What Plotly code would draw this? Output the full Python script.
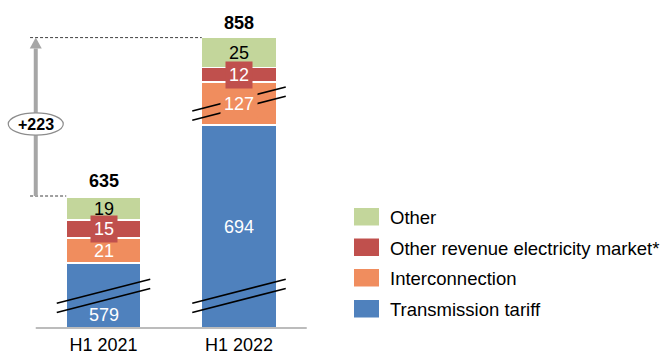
import plotly.graph_objects as go

# Revenue breakdown (EUR million)
periods = ["H1 2021", "H1 2022"]
series_names = ["Transmission tariff", "Interconnection",
                "Other revenue electricity market*", "Other"]
transmission_tariff = [579, 694]
interconnection = [21, 127]
other_revenue_market = [15, 12]
other = [19, 25]
totals = [635, 858]

# Amount cut out of each segment by the broken-axis marks
tariff_cut = [525, 525]
interconnection_cut = [0, 91]

colors = ["#4F81BD", "#F08D5E", "#C0504D", "#C3D69B"]
label_colors = ["white", "white", "white", "black"]
FONT = "Liberation Sans, Arial, sans-serif"

W, H = 660, 354
PLOT_BOTTOM = 332          # pixel row of the plot area's lower edge
PX_PER_UNIT = 1.2          # vertical pixels per displayed unit
X_PX_PER_UNIT = 135.5
BAR_W = 0.55
Y_LO = -(PLOT_BOTTOM - 328) / PX_PER_UNIT
Y_HI = Y_LO + PLOT_BOTTOM / PX_PER_UNIT
X_LO = -103.5 / X_PX_PER_UNIT
X_HI = X_LO + W / X_PX_PER_UNIT

xs = list(range(len(periods)))
values = [transmission_tariff, interconnection, other_revenue_market, other]
cuts = [tariff_cut, interconnection_cut, [0, 0], [0, 0]]
shown = [[v - c for v, c in zip(vals, cut)] for vals, cut in zip(values, cuts)]
shown_totals = [t - a - b for t, a, b in zip(totals, tariff_cut, interconnection_cut)]

fig = go.Figure()
for name, vals, disp, col in zip(series_names, values, shown, colors):
    fig.add_trace(go.Bar(
        x=xs, y=disp, name=name, customdata=vals,
        marker=dict(color=col, line=dict(color="white", width=1.5)),
        width=BAR_W, showlegend=False,
        hovertemplate="%{customdata}<extra>" + name + "</extra>",
    ))

shapes = []
annotations = []


def px_to_paper_y(py):
    return (PLOT_BOTTOM - py) / PLOT_BOTTOM


# Baseline under the bars
shapes.append(dict(type="line", xref="x", yref="y", x0=-0.5, x1=1.5, y0=0, y1=0,
                   line=dict(color="#A6A6A6", width=1.5)))

# Segment value labels
for i in xs:
    base = 0
    for s, (vals, disp) in enumerate(zip(values, shown)):
        h = disp[i]
        y_mid = base + h / 2
        bg = None
        if s == 0 and i == 0:
            y_mid = base + 11        # sits below the break marks
        if s == 2:
            bg = colors[2]
        if s == 1 and cuts[1][i] > 0:
            bg = colors[1]
        ann = dict(x=i, y=y_mid, xref="x", yref="y", text=str(vals[i]),
                   showarrow=False, font=dict(family=FONT, size=18, color=label_colors[s]),
                   borderpad=3)
        if bg:
            ann["bgcolor"] = bg
        annotations.append(ann)
        base += h

# Broken-axis marks: two parallel slanted lines
def break_marks(xc, yc):
    dx, dy, sep = 0.345, 10, 3.85
    out = []
    for off in (sep, -sep):
        out.append(dict(type="line", xref="x", yref="y",
                        x0=xc - dx, x1=xc + dx, y0=yc + off - dy, y1=yc + off + dy,
                        line=dict(color="black", width=1.6)))
    return out

for i in xs:
    if tariff_cut[i] > 0:
        shapes += break_marks(i, 26.8)
    if interconnection_cut[i] > 0:
        lo = shown[0][i]
        shapes += break_marks(i, lo + shown[1][i] / 2)

# Totals above the bars
for i in xs:
    annotations.append(dict(x=i, y=shown_totals[i], xref="x", yref="y", yanchor="bottom",
                            yshift=3, text=f"<b>{totals[i]}</b>", showarrow=False,
                            font=dict(family=FONT, size=18, color="black")))

# Dashed guides from the totals to the growth arrow
gx = -0.542
shapes.append(dict(type="line", xref="x", yref="y", x0=gx, x1=1 - BAR_W / 2,
                   y0=shown_totals[1], y1=shown_totals[1],
                   line=dict(color="#404040", width=1, dash="3px,2px")))
shapes.append(dict(type="line", xref="x", yref="y", x0=gx, x1=0 - BAR_W / 2,
                   y0=shown_totals[0], y1=shown_totals[0],
                   line=dict(color="#404040", width=1, dash="3px,2px")))

# Growth arrow
ax = -0.5
head_h = 11 / PX_PER_UNIT
head_w = 6 / X_PX_PER_UNIT
shapes.append(dict(type="line", xref="x", yref="y", x0=ax, x1=ax,
                   y0=shown_totals[0], y1=shown_totals[1] - head_h,
                   line=dict(color="#A6A6A6", width=4)))
shapes.append(dict(type="path", xref="x", yref="y",
                   path=f"M {ax - head_w} {shown_totals[1] - head_h} L {ax} {shown_totals[1]} "
                        f"L {ax + head_w} {shown_totals[1] - head_h} Z",
                   fillcolor="#A6A6A6", line=dict(width=0)))
oval_y = 170
shapes.append(dict(type="circle", xref="x", yref="y",
                   x0=ax - 27.5 / X_PX_PER_UNIT, x1=ax + 27.5 / X_PX_PER_UNIT,
                   y0=oval_y - 9.3, y1=oval_y + 9.3,
                   fillcolor="white", line=dict(color="#8C8C8C", width=1.2)))
annotations.append(dict(x=ax, y=oval_y, xref="x", yref="y", showarrow=False,
                        text=f"<b>+{totals[1] - totals[0]}</b>",
                        font=dict(family=FONT, size=16, color="black")))

# Legend (top to bottom: Other ... Transmission tariff)
row_tops = [208, 238.5, 269, 300]
for k, s in enumerate([3, 2, 1, 0]):
    top = row_tops[k]
    shapes.append(dict(type="rect", xref="paper", yref="paper",
                       x0=354 / W, x1=379 / W,
                       y0=px_to_paper_y(top + 17.5), y1=px_to_paper_y(top),
                       fillcolor=colors[s], line=dict(width=0)))
    annotations.append(dict(x=388 / W, y=px_to_paper_y(top + 9.5), xref="paper", yref="paper",
                            xanchor="left", yanchor="middle", text=series_names[s],
                            showarrow=False, font=dict(family=FONT, size=18.5, color="black")))

# Unit caption above the chart
annotations.append(dict(x=337 / W, y=1, xref="paper", yref="paper", yanchor="bottom",
                        yshift=-2, text="(EUR million)", showarrow=False,
                        font=dict(family=FONT, size=16, color="black")))

fig.update_layout(
    width=W, height=H,
    margin=dict(l=0, r=0, t=0, b=H - PLOT_BOTTOM, autoexpand=False),
    barmode="stack",
    plot_bgcolor="white", paper_bgcolor="white",
    shapes=shapes, annotations=annotations,
    xaxis=dict(range=[X_LO, X_HI], tickvals=xs, ticktext=periods, showgrid=False,
               zeroline=False, showline=False, ticks="", ticklabelstandoff=0,
               automargin=False,
               tickfont=dict(family=FONT, size=18, color="black"), fixedrange=True),
    yaxis=dict(range=[Y_LO, Y_HI], visible=False, fixedrange=True, automargin=False),
    font=dict(family=FONT),
)

fig.write_html("out.html")
